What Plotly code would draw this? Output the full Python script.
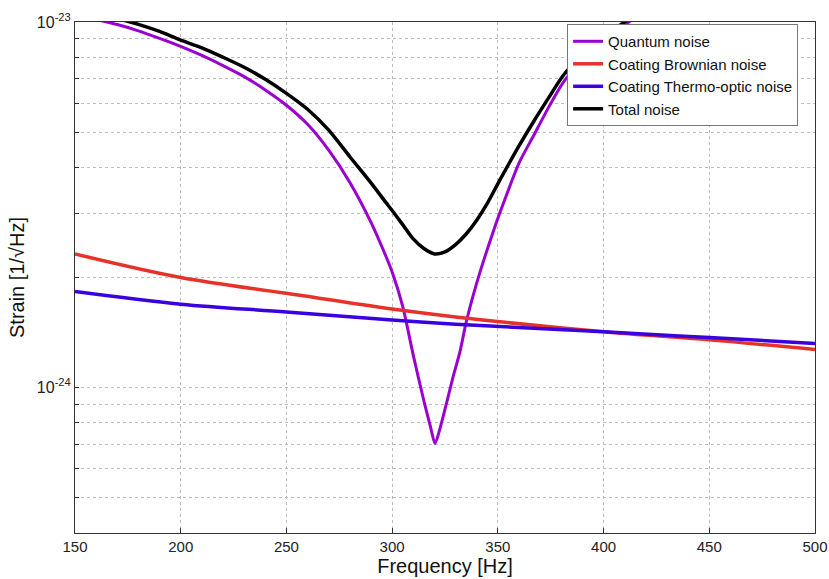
import plotly.graph_objects as go

# Frequencies (Hz) and strain values
q_freq = [150, 160, 170, 180, 190, 200, 210, 220, 230, 240, 250, 260, 270, 280, 290, 297, 300, 305, 310, 315, 318, 320.3,
          323, 326, 329, 332, 335, 339, 343, 348, 351, 360, 367, 374, 381, 390, 400, 412, 420]
q_vals = [1.05e-23, 1.016e-23, 9.84e-24, 9.46e-24, 9.02e-24, 8.58e-24, 8.10e-24, 7.60e-24, 7.09e-24, 6.52e-24, 5.92e-24,
          5.25e-24, 4.46e-24, 3.64e-24, 2.83e-24, 2.29e-24, 2.07e-24, 1.667e-24, 1.225e-24, 9.2e-25, 7.87e-25, 7.03e-25,
          7.87e-25, 9.2e-25, 1.079e-24, 1.247e-24, 1.507e-24, 1.845e-24, 2.20e-24, 2.69e-24, 3.01e-24, 4.11e-24, 4.90e-24,
          5.84e-24, 6.85e-24, 7.87e-24, 8.93e-24, 1.0e-23, 1.08e-23]

b_freq = [150, 200, 250, 300, 330, 400, 450, 500]
b_vals = [2.32e-24, 2.0e-24, 1.81e-24, 1.64e-24, 1.56e-24, 1.42e-24, 1.35e-24, 1.27e-24]

t_freq = [150, 200, 250, 300, 330, 400, 450, 500]
t_vals = [1.83e-24, 1.69e-24, 1.61e-24, 1.53e-24, 1.49e-24, 1.42e-24, 1.37e-24, 1.32e-24]

tot_freq = [150, 160, 170, 180, 190, 200, 210, 220, 230, 240, 250, 260, 270, 280, 290, 297, 300, 305, 310, 315, 320,
            325, 330, 335, 340, 345, 351, 360, 367, 374, 381, 390, 400, 410, 420]
tot_vals = [1.09e-23, 1.055e-23, 1.022e-23, 9.85e-24, 9.42e-24, 8.92e-24, 8.50e-24, 8.01e-24, 7.52e-24, 6.97e-24, 6.38e-24,
            5.77e-24, 5.06e-24, 4.28e-24, 3.63e-24, 3.21e-24, 3.05e-24, 2.79e-24, 2.55e-24, 2.40e-24, 2.32e-24,
            2.35e-24, 2.46e-24, 2.63e-24, 2.87e-24, 3.19e-24, 3.70e-24, 4.58e-24, 5.35e-24, 6.2e-24, 7.15e-24,
            8.13e-24, 9.16e-24, 1.0e-23, 1.1e-23]

x_ticks = [150, 200, 250, 300, 350, 400, 450, 500]
y_tickvals = [4e-25, 5e-25, 6e-25, 7e-25, 8e-25, 9e-25, 1e-24, 2e-24, 3e-24, 4e-24,
              5e-24, 6e-24, 7e-24, 8e-24, 9e-24, 1e-23]
y_ticktext = ["", "", "", "", "", "", "10<sup>-24</sup>", "", "", "", "", "", "", "", "", "10<sup>-23</sup>"]

fig = go.Figure()
fig.add_trace(go.Scatter(x=q_freq, y=q_vals, mode="lines", name="Quantum noise",
                         line=dict(color="#9A00D0", width=3, shape="spline", smoothing=0.7)))
fig.add_trace(go.Scatter(x=b_freq, y=b_vals, mode="lines", name="Coating Brownian noise",
                         line=dict(color="#E5332A", width=3.5, shape="spline")))
fig.add_trace(go.Scatter(x=t_freq, y=t_vals, mode="lines", name="Coating Thermo-optic noise",
                         line=dict(color="#3A00E0", width=3.5, shape="spline")))
fig.add_trace(go.Scatter(x=tot_freq, y=tot_vals, mode="lines", name="Total noise",
                         line=dict(color="#000000", width=3.5, shape="spline", smoothing=0.8)))

fig.update_layout(
    width=829, height=579,
    margin=dict(l=75, r=14, t=22, b=46),
    paper_bgcolor="white", plot_bgcolor="white",
    font=dict(family="Liberation Sans, Arial, sans-serif", color="#222222"),
    showlegend=True,
    legend=dict(x=0.665, y=0.996, xanchor="left", yanchor="top",
                bgcolor="white", bordercolor="#777777", borderwidth=1,
                font=dict(size=15, color="#111111"), tracegroupgap=0,
                itemwidth=30),
    xaxis=dict(range=[150, 500], tickvals=x_ticks, ticktext=[str(v) for v in x_ticks],
               automargin=False,
               showgrid=True, gridcolor="#bdbdbd", griddash="dot", gridwidth=1,
               showline=True, linecolor="#333333", linewidth=1, mirror=True,
               ticks="inside", ticklen=5, tickcolor="#333333",
               tickfont=dict(size=15, color="#222222"),
               title=dict(text="Frequency [Hz]", font=dict(size=20, color="#111111"), standoff=2),
               zeroline=False),
    yaxis=dict(type="log", range=[-24.398, -23.0], tickvals=y_tickvals, ticktext=y_ticktext,
               automargin=False,
               showgrid=True, gridcolor="#bdbdbd", griddash="dot", gridwidth=1,
               showline=True, linecolor="#333333", linewidth=1, mirror=True,
               ticks="inside", ticklen=4, tickcolor="#333333",
               tickfont=dict(size=16, color="#222222"),
               title=dict(text="Strain [1/√Hz]", font=dict(size=20, color="#111111"), standoff=6),
               zeroline=False),
)

fig.write_html("out.html")
